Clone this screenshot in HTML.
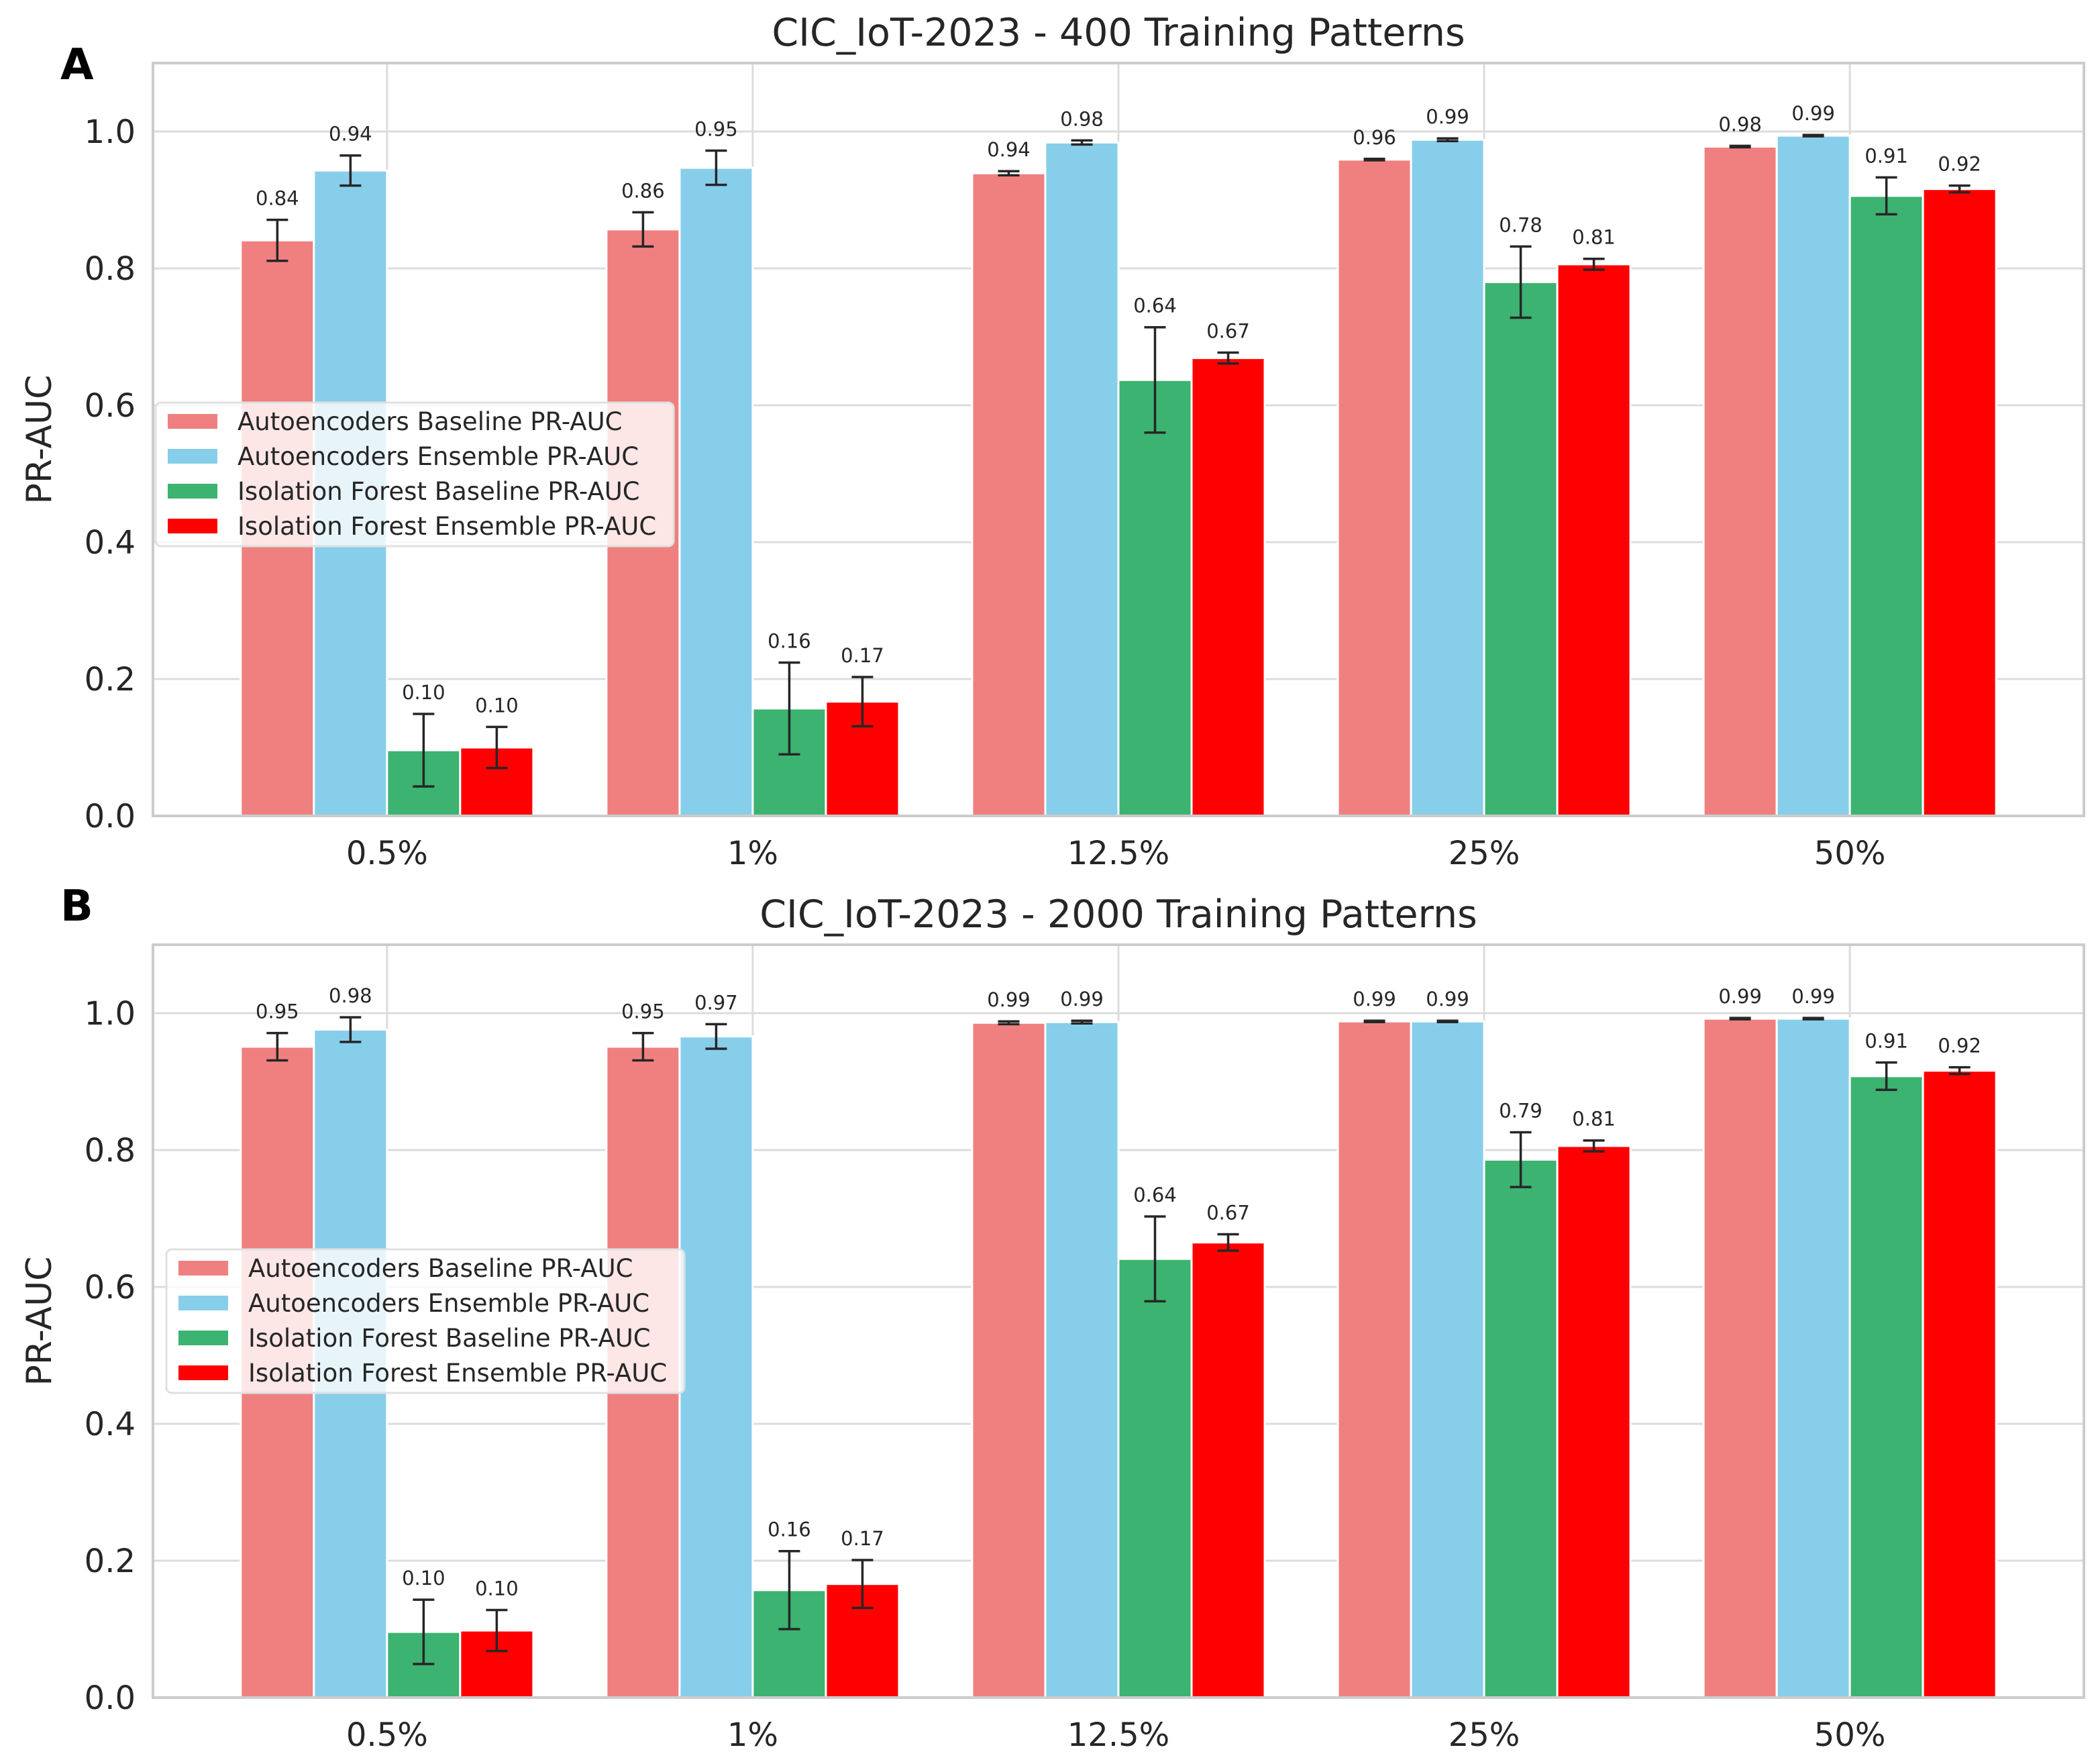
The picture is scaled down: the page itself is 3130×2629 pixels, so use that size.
<!DOCTYPE html>
<html><head><meta charset="utf-8">
<style>
html,body{margin:0;padding:0;background:#fff;}
svg{display:block;font-family:"DejaVu Sans","Liberation Sans",sans-serif;}
</style></head>
<body>
<svg id="fig" width="3130" height="2629" viewBox="0 0 3130 2629" xmlns="http://www.w3.org/2000/svg"></svg>
<script>
const categories = ["0.5%","1%","12.5%","25%","50%"];
const seriesNames = ["Autoencoders Baseline PR-AUC","Autoencoders Ensemble PR-AUC","Isolation Forest Baseline PR-AUC","Isolation Forest Ensemble PR-AUC"];
const colors = ["#f08080","#87ceeb","#3cb371","#ff0000"];
const yTicks = [0.0,0.2,0.4,0.6,0.8,1.0];
// Panel A (400 training patterns)
const aAB = [0.841,0.857,0.939,0.959,0.978];
const aAE = [0.943,0.947,0.984,0.988,0.994];
const aIB = [0.096,0.157,0.637,0.780,0.906];
const aIE = [0.100,0.167,0.669,0.806,0.916];
const aABerr = [0.030,0.025,0.003,0.001,0.001];
const aAEerr = [0.022,0.025,0.003,0.002,0.001];
const aIBerr = [0.053,0.067,0.077,0.052,0.027];
const aIEerr = [0.030,0.036,0.008,0.008,0.005];
// Panel B (2000 training patterns)
const bAB = [0.951,0.951,0.986,0.988,0.992];
const bAE = [0.976,0.966,0.987,0.988,0.992];
const bIB = [0.096,0.157,0.641,0.786,0.908];
const bIE = [0.098,0.166,0.665,0.806,0.916];
const bABerr = [0.020,0.020,0.002,0.001,0.001];
const bAEerr = [0.018,0.018,0.002,0.001,0.001];
const bIBerr = [0.047,0.057,0.062,0.040,0.020];
const bIEerr = [0.030,0.035,0.012,0.008,0.005];

const NS="http://www.w3.org/2000/svg";
const svg=document.getElementById('fig');
function mk(tag,attrs,parent){const e=document.createElementNS(NS,tag);for(const k in attrs)e.setAttribute(k,attrs[k]);(parent||svg).appendChild(e);return e;}

function panel(cfg){
  const g=mk('g',{});
  
  
  const L=228,R=3106,T=cfg.top,B=cfg.bottom;
  const xmin=-0.64,xmax=4.64,ymax=1.1;
  const xs=v=>L+(v-xmin)/(xmax-xmin)*(R-L);
  const ys=v=>B-v/ymax*(B-T);
  yTicks.forEach(t=>{
    const l=mk('line',{x1:L,x2:R,y1:ys(t),y2:ys(t),stroke:'#dcdcdc','stroke-width':3},g);
    
    
    const tx=mk('text',{x:L-26,y:ys(t)+17,'text-anchor':'end','font-size':48,fill:'#262626'},g);
    tx.textContent=t.toFixed(1);
    
    
  });
  categories.forEach((c,i)=>{
    const l=mk('line',{x1:xs(i),x2:xs(i),y1:T,y2:B,stroke:'#dcdcdc','stroke-width':3},g);
    
    
    const tx=mk('text',{x:xs(i),y:B+72,'text-anchor':'middle','font-size':48,fill:'#262626'},g);
    tx.textContent=c;
    
    
  });
  const w=0.2;
  const offs=[-1.5,-0.5,0.5,1.5];
  const keys=['ab','ae','ib','ie'];
  cfg.vals.forEach((arr,s)=>{
    arr.forEach((v,i)=>{
      const cx=xs(i+offs[s]*w);
      const bw=(xs(w)-xs(0));
      const r=mk('rect',{x:cx-bw/2,y:ys(v),width:bw,height:ys(0)-ys(v),fill:colors[s],stroke:'#fff','stroke-width':3},g);
      
      
      const e=cfg.errs[s][i];
      const y1=ys(v+e),y2=ys(v-e);
      const eg=mk('g',{stroke:'#262626','stroke-width':3.5},g);
      
      
      mk('line',{x1:cx,x2:cx,y1:y1,y2:y2},eg);
      mk('line',{x1:cx-16,x2:cx+16,y1:y1,y2:y1},eg);
      mk('line',{x1:cx-16,x2:cx+16,y1:y2,y2:y2},eg);
      const lt=mk('text',{x:cx,y:y1-22,'text-anchor':'middle','font-size':29,fill:'#262626'},g);
      lt.textContent=v.toFixed(2);
      
      
    });
  });
  const fr=mk('rect',{x:L,y:T,width:R-L,height:B-T,fill:'none',stroke:'#cccccc','stroke-width':4},g);
  
  
  const ti=mk('text',{x:(L+R)/2,y:T-26,'text-anchor':'middle','font-size':57,fill:'#262626'},g);
  ti.textContent=cfg.title;
  
  
  const yl=mk('text',{x:0,y:0,'text-anchor':'middle','font-size':52,fill:'#262626',transform:`translate(76,${(T+B)/2}) rotate(-90)`},g);
  yl.textContent='PR-AUC';
  
  
  const pl=mk('text',{x:90,y:cfg.letterY,'font-size':64,'font-weight':'bold',fill:'#000'},g);
  pl.textContent=cfg.letter;
  
  
  const lg=mk('g',{},g);
  
  
  const lx=cfg.legX,ly=cfg.legY;
  mk('rect',{x:lx,y:ly,width:772,height:214,rx:8,fill:'#fff','fill-opacity':0.8,stroke:'#e0e0e0','stroke-width':3},lg);
  seriesNames.forEach((n,s)=>{
    const e=mk('g',{},lg);
    
    
    const cy=ly+28+s*52;
    mk('rect',{x:lx+18,y:cy-11,width:74,height:22,fill:colors[s]},e);
    const t=mk('text',{x:lx+122,y:cy+13,'font-size':37,fill:'#262626'},e);
    t.textContent=n;
  });
}
panel({id:'a',letter:'A',letterY:118,title:'CIC_IoT-2023 - 400 Training Patterns',top:94,bottom:1216,
  vals:[aAB,aAE,aIB,aIE],errs:[aABerr,aAEerr,aIBerr,aIEerr],legX:232,legY:600});
panel({id:'b',letter:'B',letterY:1372,title:'CIC_IoT-2023 - 2000 Training Patterns',top:1408,bottom:2530,
  vals:[bAB,bAE,bIB,bIE],errs:[bABerr,bAEerr,bIBerr,bIEerr],legX:248,legY:1862});
</script>
</body></html>
